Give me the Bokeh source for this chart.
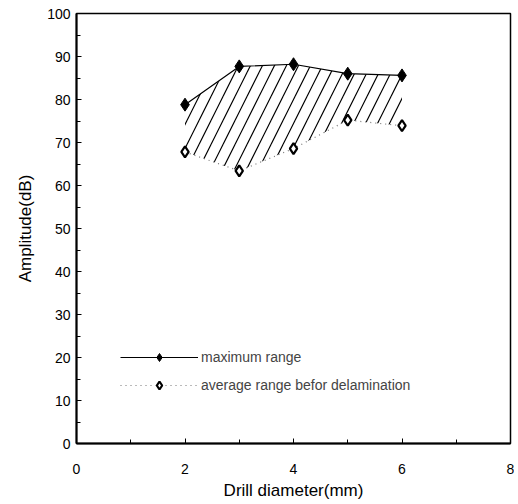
from bokeh.plotting import figure
from bokeh.models import Range1d, Legend, LegendItem, SingleIntervalTicker
from bokeh.embed import file_html
from bokeh.resources import INLINE

drill = [2, 3, 4, 5, 6]
max_range = [78.8, 87.7, 88.2, 86.0, 85.6]
avg_range = [67.8, 63.4, 68.6, 75.2, 73.9]

FONT = "Liberation Sans"

p = figure(width=514, height=502, output_backend="svg", toolbar_location=None,
           x_range=Range1d(0, 8), y_range=Range1d(0, 100),
           min_border_left=76, min_border_top=13, min_border_right=4, min_border_bottom=58)
p.xgrid.visible = False
p.ygrid.visible = False
p.outline_line_color = "black"
p.outline_line_width = 1.5
p.background_fill_color = "white"
p.border_fill_color = "white"

# hatched band
p.varea(x=drill, y1=avg_range, y2=max_range, fill_alpha=0,
        hatch_pattern="/", hatch_scale=24, hatch_weight=1.2, hatch_color="black")

l1 = p.line(drill, max_range, line_color="black", line_width=1.2)
m1 = p.scatter(drill, max_range, marker="diamond", size=13, fill_color="black", line_color="black")
l2 = p.line(drill, avg_range, line_color="#777777", line_width=1.2, line_dash="1 4")
m2 = p.scatter(drill, avg_range, marker="diamond", size=11, fill_color="white",
               line_color="black", line_width=2.2)

legend = Legend(items=[LegendItem(label="maximum range", renderers=[l1, m1]),
                       LegendItem(label="average range befor delamination", renderers=[l2, m2])],
                location=(44, 48), border_line_color=None, background_fill_alpha=0,
                padding=0, margin=0, spacing=8, glyph_width=78, glyph_height=20,
                label_height=20, label_standoff=3,
                label_text_font=FONT, label_text_font_size="14px")
p.add_layout(legend, "center")

for ax in (p.xaxis[0], p.yaxis[0]):
    ax.axis_line_color = "black"
    ax.axis_line_width = 2
    ax.major_tick_in = 5
    ax.major_tick_out = 0
    ax.minor_tick_in = 4
    ax.minor_tick_out = 0
    ax.major_tick_line_color = "black"
    ax.minor_tick_line_color = "black"
    ax.major_label_text_font = FONT
    ax.major_label_text_font_size = "14px"
    ax.major_label_text_color = "black"
    ax.axis_label_text_font = FONT
    ax.axis_label_text_font_size = "17px"
    ax.axis_label_text_font_style = "normal"
    ax.axis_label_text_color = "black"

p.xaxis[0].ticker = SingleIntervalTicker(interval=2, num_minor_ticks=2)
p.yaxis[0].ticker = SingleIntervalTicker(interval=10, num_minor_ticks=2)
p.xaxis[0].axis_label = "Drill diameter(mm)"
p.yaxis[0].axis_label = "Amplitude(dB)"
p.xaxis[0].major_label_standoff = 20
p.xaxis[0].axis_label_standoff = 4
p.yaxis[0].major_label_standoff = 6
p.yaxis[0].axis_label_standoff = 9

open("out.html", "w").write(file_html(p, INLINE))
